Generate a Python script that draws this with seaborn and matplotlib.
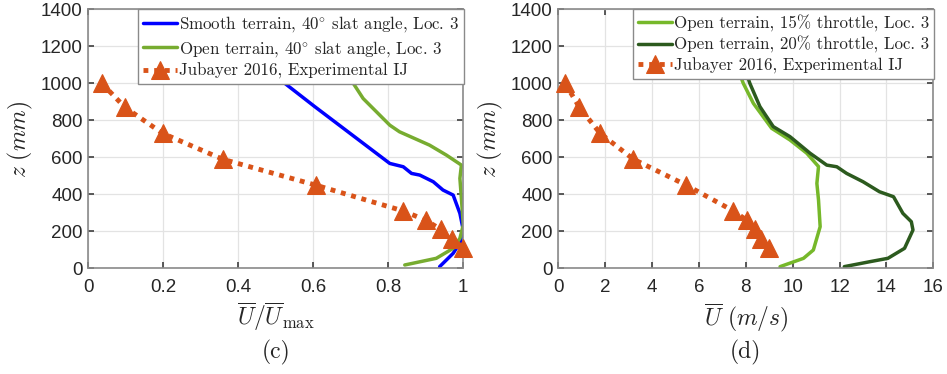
import matplotlib
matplotlib.use("Agg")
import matplotlib.pyplot as plt
import seaborn as sns
import pandas as pd

# ---- data ----
smooth40_z = [1400, 1027, 874, 567, 549, 513, 504, 468, 423, 396, 297, 207, 153, 81, 9]
smooth40_u = [0.314, 0.507, 0.604, 0.804, 0.84, 0.862, 0.884, 0.92, 0.946, 0.973, 0.991, 1.0, 0.996, 0.973, 0.937]

open40_z = [1400, 1027, 918, 774, 738, 666, 612, 558, 486, 378, 234, 162, 108, 54, 18]
open40_u = [0.596, 0.698, 0.733, 0.804, 0.83, 0.91, 0.955, 0.995, 0.991, 0.995, 1.0, 0.991, 0.973, 0.928, 0.844]

open15_z = [1400, 1000, 892, 757, 694, 622, 550, 459, 369, 225, 99, 54, 9]
open15_u = [6.69, 7.89, 8.32, 9.1, 9.88, 10.6, 11.1, 11.03, 11.1, 11.17, 10.88, 10.46, 9.46]

open20_z = [1400, 1000, 874, 766, 712, 622, 558, 549, 513, 468, 414, 387, 297, 252, 207, 108, 54, 36, 9]
open20_u = [7.11, 8.17, 8.6, 9.17, 9.88, 10.74, 11.45, 11.88, 12.3, 13.0, 13.7, 14.3, 14.7, 15.06, 15.13, 14.77, 14.06, 13.3, 12.2]

jub_z = [1000, 870, 730, 590, 450, 310, 260, 210, 160, 110]
jub_norm = [0.036, 0.098, 0.198, 0.358, 0.606, 0.84, 0.9, 0.94, 0.97, 1.0]
jub_u = [0.29, 0.9, 1.78, 3.2, 5.45, 7.47, 8.04, 8.39, 8.63, 8.99]

labels_c = ["Smooth terrain, 40$^{\\circ}$ slat angle, Loc. 3",
            "Open terrain, 40$^{\\circ}$ slat angle, Loc. 3",
            "Jubayer 2016, Experimental IJ"]
labels_d = ["Open terrain, 15% throttle, Loc. 3",
            "Open terrain, 20% throttle, Loc. 3",
            "Jubayer 2016, Experimental IJ"]

c_blue = "#0000FF"
c_green = "#77AC30"
c_lgreen = "#76B82A"
c_dgreen = "#2C5A1E"
c_orange = "#D95319"

sns.set_theme(style="whitegrid")
plt.rcParams["font.family"] = ["Liberation Sans", "DejaVu Sans"]
plt.rcParams["mathtext.fontset"] = "cm"

fig = plt.figure(figsize=(9.47, 3.74), dpi=100)
ax1 = fig.add_axes([0.0932, 0.2826, 0.396, 0.6924])
ax2 = fig.add_axes([0.5896, 0.2826, 0.396, 0.6924])

def draw(ax, series, jx, labels, xlim, xticks, xticklabels, xlabel, cap):
    for (xs, zs, col), lab in zip(series, labels[:2]):
        df = pd.DataFrame({"u": xs, "z": zs})
        sns.lineplot(data=df, x="u", y="z", sort=False, estimator=None,
                     color=col, lw=2.5, ax=ax, label=lab)
    dj = pd.DataFrame({"u": jx, "z": jub_z})
    sns.lineplot(data=dj, x="u", y="z", sort=False, estimator=None,
                 color=c_orange, lw=3.5, ls=(0, (1, 1.2)), marker="^",
                 markersize=13, markeredgecolor=c_orange, ax=ax,
                 label=labels[2], clip_on=False, zorder=5)
    ax.set_xlim(*xlim)
    ax.set_ylim(0, 1400)
    ax.set_xticks(xticks)
    ax.set_xticklabels(xticklabels)
    ax.set_yticks(range(0, 1401, 200))
    ax.tick_params(axis="both", labelsize=13.5, direction="in", length=4,
                   color="#444444", pad=4, top=True, right=True,
                   bottom=True, left=True)
    ax.tick_params(axis="x", pad=8)
    ax.grid(True, color="#e3e3e3", lw=0.9)
    for s in ax.spines.values():
        s.set_color("#8a8a8a")
        s.set_linewidth(1.2)
    ax.set_ylabel("$z\\ (mm)$", fontsize=17, labelpad=4)
    ax.set_xlabel(xlabel, fontsize=17, labelpad=3)
    leg = ax.legend(loc="upper right", bbox_to_anchor=(1.003, 1.0),
                    prop={"family": "cmr10", "size": 12.2}, frameon=True,
                    fancybox=False, framealpha=1, edgecolor="#8a8a8a",
                    borderpad=0.3, labelspacing=0.25, handlelength=2.0,
                    handletextpad=0.15, borderaxespad=0.0)
    leg.get_frame().set_linewidth(1.0)
    leg.set_zorder(10)
    ax.text(0.5, -0.275, cap, transform=ax.transAxes, ha="center", va="top",
            fontsize=17, family="cmr10")

draw(ax1, [(smooth40_u, smooth40_z, c_blue), (open40_u, open40_z, c_green)],
     jub_norm, labels_c, (0, 1), [0, 0.2, 0.4, 0.6, 0.8, 1.0],
     ["0", "0.2", "0.4", "0.6", "0.8", "1"],
     "$\\overline{U}/\\overline{U}_{\\max}$", "(c)")
draw(ax2, [(open15_u, open15_z, c_lgreen), (open20_u, open20_z, c_dgreen)],
     jub_u, labels_d, (0, 16), list(range(0, 17, 2)),
     [str(v) for v in range(0, 17, 2)],
     "$\\overline{U}\\ (m/s)$", "(d)")

fig.savefig("out.png", dpi=100)
